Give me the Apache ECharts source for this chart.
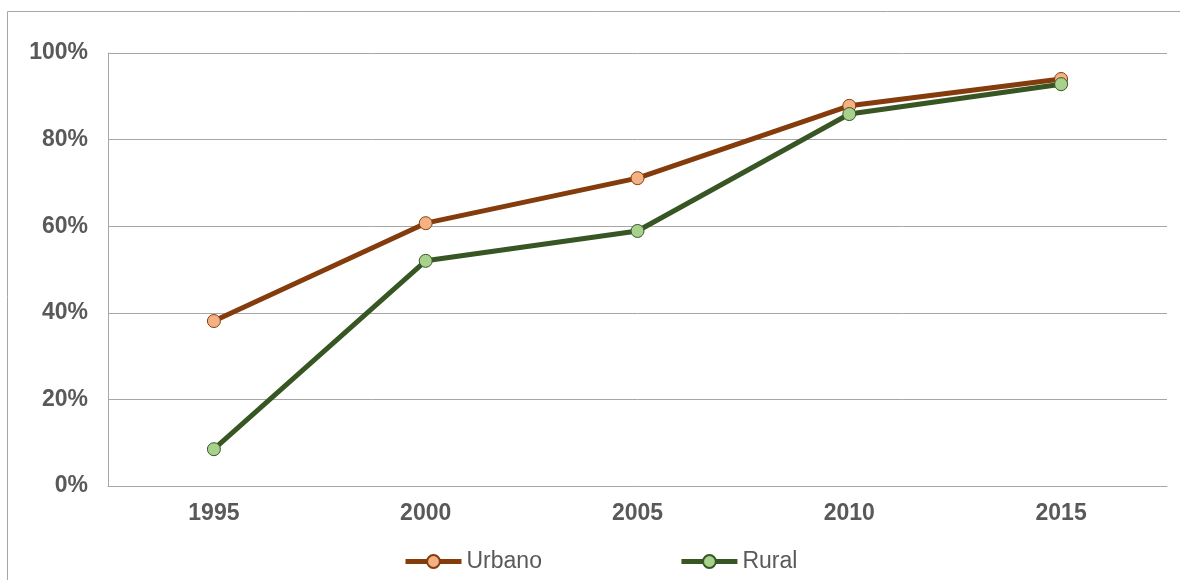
<!DOCTYPE html>
<html>
<head>
<meta charset="utf-8">
<script src="https://cdn.jsdelivr.net/npm/echarts@6/dist/echarts.min.js"></script>
<style>
  html, body { margin: 0; padding: 0; background: #fff; }
  #chart { width: 1180px; height: 580px; }
</style>
</head>
<body>
<div id="chart"></div>
<script>
const years = ['1995', '2000', '2005', '2010', '2015'];
const urbano = [38.1, 60.7, 71.1, 87.8, 94.0];
const rural = [8.5, 52.0, 58.9, 85.9, 92.8];
const yTicks = [0, 20, 40, 60, 80, 100];

const chart = echarts.init(document.getElementById('chart'));

const option = {
  animation: false,
  textStyle: { fontFamily: 'Liberation Sans, Arial, sans-serif' },
  graphic: [
    {
      type: 'polyline',
      shape: { points: [[7.5, 590], [7.5, 11.5], [1190, 11.5]] },
      style: { stroke: '#a6a6a6', lineWidth: 1, fill: null }
    }
  ],
  grid: { left: 108, right: 13, top: 53, bottom: 94 },
  legend: {
    left: 398,
    top: 545,
    itemWidth: 56,
    itemHeight: 16,
    itemGap: 137,
    lineStyle: { width: 5 },
    textStyle: { color: '#595959', fontSize: 23 },
    data: ['Urbano', 'Rural']
  },
  xAxis: {
    type: 'category',
    data: years,
    boundaryGap: true,
    axisLine: { lineStyle: { color: '#a6a6a6', width: 1 } },
    axisTick: { show: false },
    axisLabel: { color: '#595959', fontSize: 23, fontWeight: 'bold', margin: 16 }
  },
  yAxis: {
    type: 'value',
    min: yTicks[0],
    max: yTicks[yTicks.length - 1],
    interval: 20,
    axisLine: { show: true, lineStyle: { color: '#a6a6a6', width: 1 } },
    axisTick: { show: false },
    splitLine: { lineStyle: { color: '#a6a6a6', width: 1 } },
    axisLabel: { color: '#595959', fontSize: 23, fontWeight: 'bold', margin: 20, formatter: '{value}%' }
  },
  series: [
    {
      name: 'Urbano',
      type: 'line',
      data: urbano,
      symbol: 'circle',
      symbolSize: 13,
      lineStyle: { color: '#843c0c', width: 5 },
      itemStyle: { color: '#f4b183', borderColor: '#843c0c', borderWidth: 1 }
    },
    {
      name: 'Rural',
      type: 'line',
      data: rural,
      symbol: 'circle',
      symbolSize: 13,
      lineStyle: { color: '#375623', width: 5 },
      itemStyle: { color: '#a9d18e', borderColor: '#375623', borderWidth: 1 }
    }
  ]
};

chart.setOption(option);
</script>
</body>
</html>
